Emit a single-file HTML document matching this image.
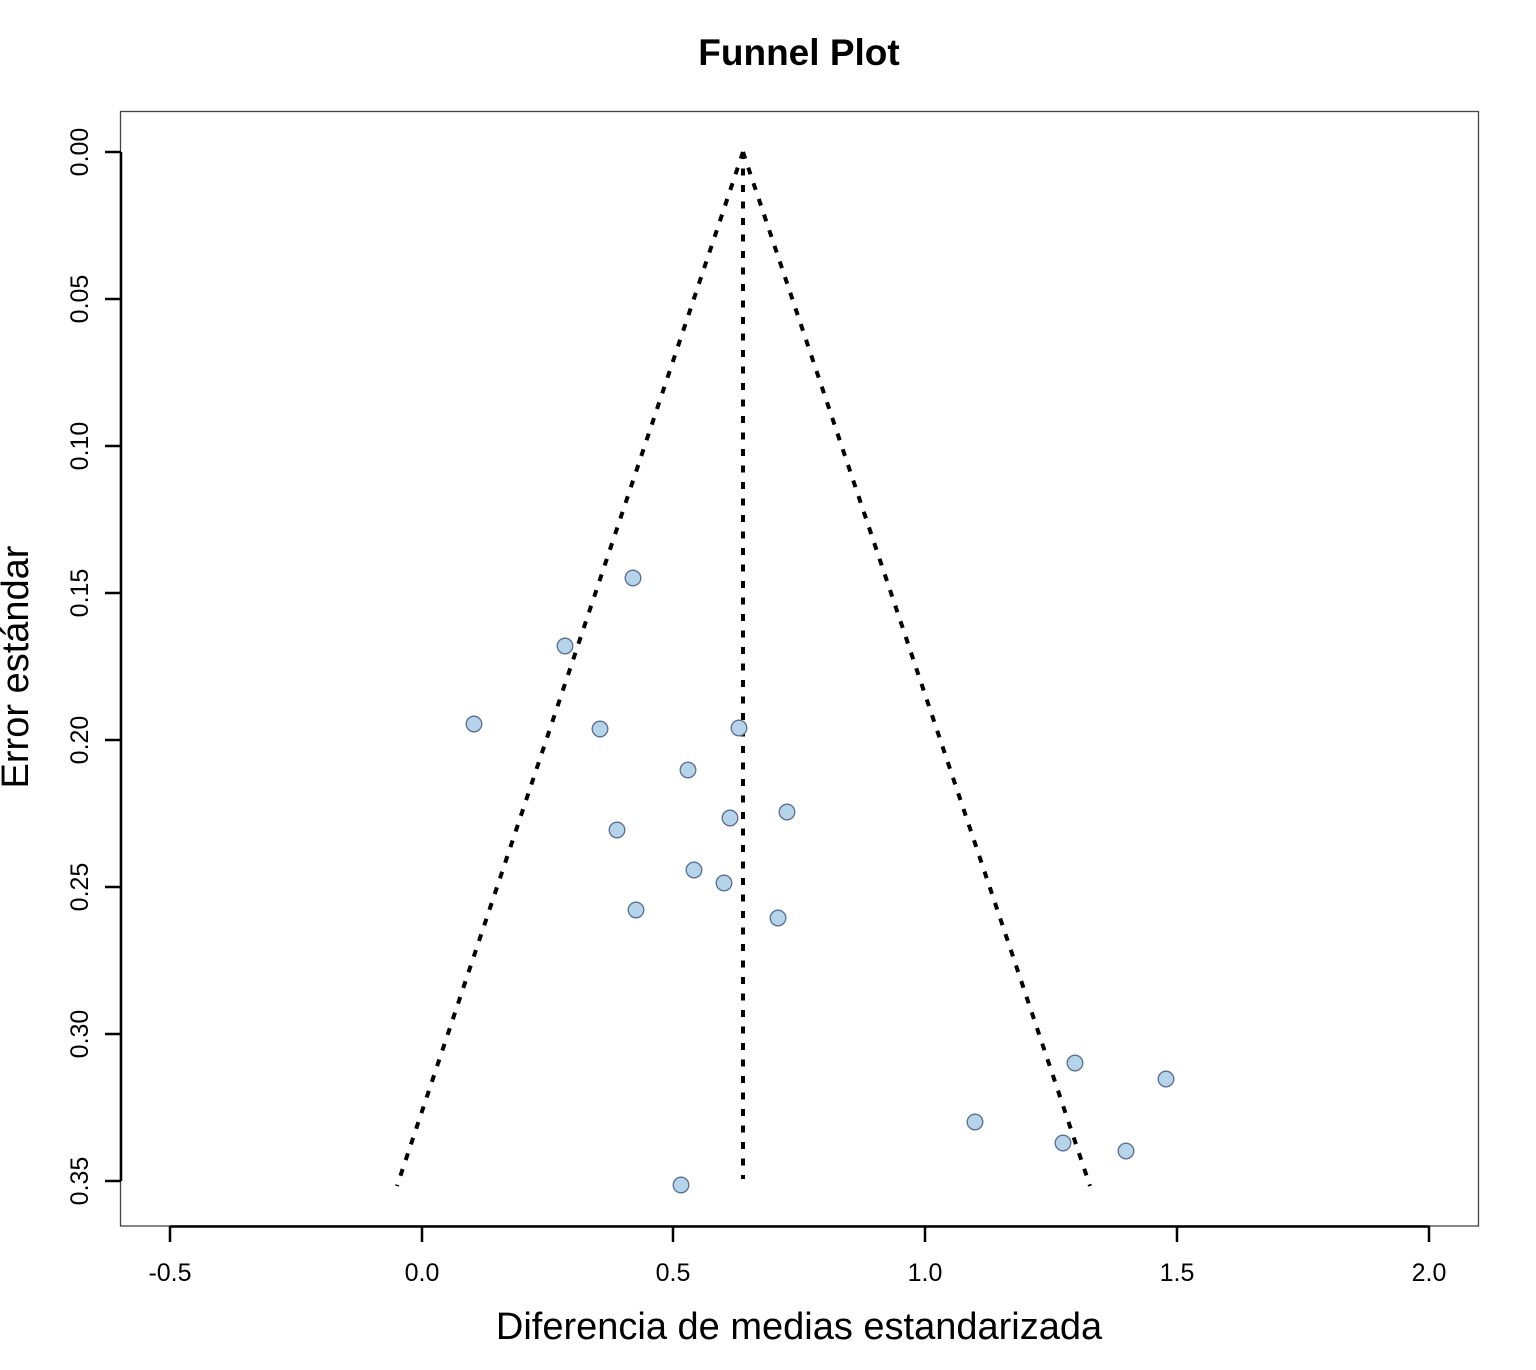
<!DOCTYPE html>
<html>
<head>
<meta charset="utf-8">
<style>
  html, body { margin: 0; padding: 0; background: #fff; }
  svg { display: block; }
  text { font-family: "Liberation Sans", Arial, sans-serif; fill: #000; }
</style>
</head>
<body>
<svg width="1536" height="1370" viewBox="0 0 1536 1370" xmlns="http://www.w3.org/2000/svg">
  <rect x="0" y="0" width="1536" height="1370" fill="#fff"/>
  <!-- Title -->
  <text x="799" y="65" font-size="37" font-weight="bold" text-anchor="middle">Funnel Plot</text>

  <!-- Plot box -->
  <rect x="120.5" y="111.5" width="1358" height="1114.5" fill="none" stroke="#444" stroke-width="1.3"/>

  <!-- Y axis -->
  <g stroke="#000" stroke-width="2.5" fill="none">
    <line x1="121" y1="152" x2="121" y2="1181"/>
    <line x1="105" y1="152" x2="121" y2="152"/>
    <line x1="105" y1="299" x2="121" y2="299"/>
    <line x1="105" y1="446" x2="121" y2="446"/>
    <line x1="105" y1="593" x2="121" y2="593"/>
    <line x1="105" y1="740" x2="121" y2="740"/>
    <line x1="105" y1="887" x2="121" y2="887"/>
    <line x1="105" y1="1034" x2="121" y2="1034"/>
    <line x1="105" y1="1181" x2="121" y2="1181"/>
  </g>
  <g font-size="25" text-anchor="middle">
    <text transform="translate(88,152) rotate(-90)">0.00</text>
    <text transform="translate(88,299) rotate(-90)">0.05</text>
    <text transform="translate(88,446) rotate(-90)">0.10</text>
    <text transform="translate(88,593) rotate(-90)">0.15</text>
    <text transform="translate(88,740) rotate(-90)">0.20</text>
    <text transform="translate(88,887) rotate(-90)">0.25</text>
    <text transform="translate(88,1034) rotate(-90)">0.30</text>
    <text transform="translate(88,1181) rotate(-90)">0.35</text>
  </g>
  <text transform="translate(28,667) rotate(-90)" font-size="38" text-anchor="middle">Error estándar</text>

  <!-- X axis -->
  <g stroke="#000" stroke-width="2.5" fill="none">
    <line x1="170" y1="1226.5" x2="1429" y2="1226.5"/>
    <line x1="170" y1="1226" x2="170" y2="1242"/>
    <line x1="422" y1="1226" x2="422" y2="1242"/>
    <line x1="673" y1="1226" x2="673" y2="1242"/>
    <line x1="925" y1="1226" x2="925" y2="1242"/>
    <line x1="1177" y1="1226" x2="1177" y2="1242"/>
    <line x1="1429" y1="1226" x2="1429" y2="1242"/>
  </g>
  <g font-size="25" text-anchor="middle">
    <text x="170" y="1281">-0.5</text>
    <text x="422" y="1281">0.0</text>
    <text x="673" y="1281">0.5</text>
    <text x="925" y="1281">1.0</text>
    <text x="1177" y="1281">1.5</text>
    <text x="1429" y="1281">2.0</text>
  </g>
  <text x="799" y="1339" font-size="38" text-anchor="middle">Diferencia de medias estandarizada</text>

  <!-- Funnel lines -->
  <g stroke="#000" stroke-width="4" fill="none" stroke-dasharray="7 9.5">
    <line x1="743" y1="152" x2="397" y2="1186"/>
    <line x1="743" y1="152" x2="1090" y2="1186"/>
    <line x1="743" y1="152" x2="743" y2="1179"/>
  </g>

  <!-- Points -->
  <g fill="#b5d4ea" stroke="#5a6d92" stroke-width="1.3">
    <circle cx="633" cy="578" r="7.8"/>
    <circle cx="565" cy="646" r="7.8"/>
    <circle cx="474" cy="724" r="7.8"/>
    <circle cx="600" cy="729" r="7.8"/>
    <circle cx="739" cy="728" r="7.8"/>
    <circle cx="688" cy="770" r="7.8"/>
    <circle cx="787" cy="812" r="7.8"/>
    <circle cx="730" cy="818" r="7.8"/>
    <circle cx="617" cy="830" r="7.8"/>
    <circle cx="694" cy="870" r="7.8"/>
    <circle cx="724" cy="883" r="7.8"/>
    <circle cx="636" cy="910" r="7.8"/>
    <circle cx="778" cy="918" r="7.8"/>
    <circle cx="1075" cy="1063" r="7.8"/>
    <circle cx="1166" cy="1079" r="7.8"/>
    <circle cx="975" cy="1122" r="7.8"/>
    <circle cx="1063" cy="1143" r="7.8"/>
    <circle cx="1126" cy="1151" r="7.8"/>
    <circle cx="681" cy="1185" r="7.8"/>
  </g>
</svg>
</body>
</html>
